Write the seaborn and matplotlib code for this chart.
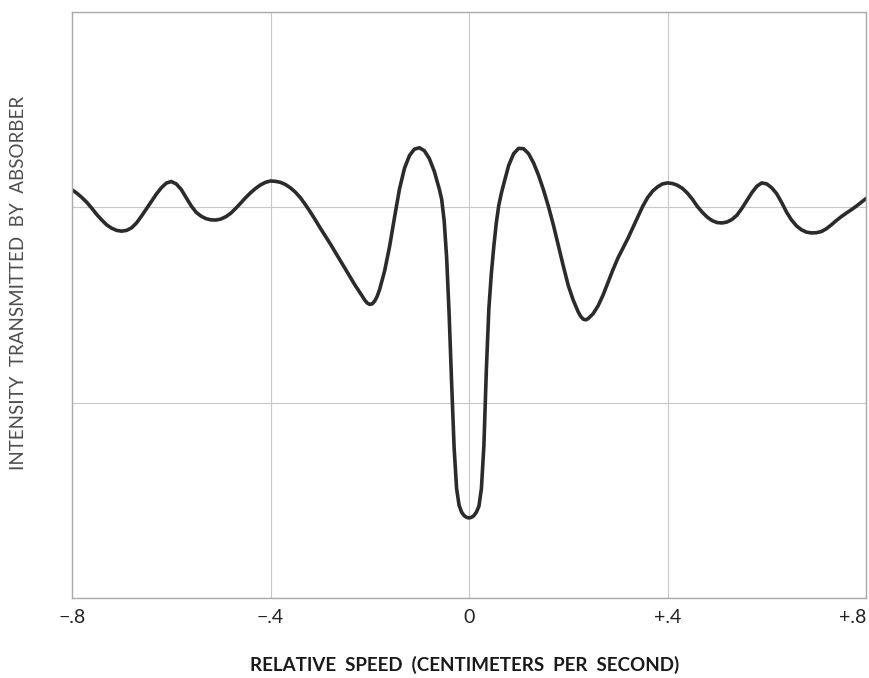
import matplotlib
matplotlib.use("Agg")
import matplotlib.pyplot as plt
import seaborn as sns
import pandas as pd

# Transmitted intensity versus relative source/absorber speed (cm/s)
speed = [
    -0.800, -0.790, -0.780, -0.770, -0.760, -0.750, -0.740, -0.730, -0.720,
    -0.710, -0.700, -0.690, -0.680, -0.670, -0.660, -0.650, -0.640, -0.630,
    -0.620, -0.610, -0.600, -0.590, -0.580, -0.570, -0.560, -0.550, -0.540,
    -0.530, -0.520, -0.510, -0.500, -0.490, -0.480, -0.470, -0.460, -0.450,
    -0.440, -0.430, -0.420, -0.410, -0.400, -0.390, -0.380, -0.370, -0.360,
    -0.350, -0.340, -0.330, -0.320, -0.310, -0.300, -0.280, -0.260, -0.240,
    -0.230, -0.220, -0.215, -0.210, -0.205, -0.200, -0.195, -0.190, -0.185,
    -0.180, -0.170, -0.160, -0.150, -0.140, -0.130, -0.120, -0.110, -0.100,
    -0.090, -0.080, -0.070, -0.060, -0.055, -0.050, -0.045, -0.040, -0.035,
    -0.030, -0.025, -0.020, -0.015, -0.010, -0.005, 0.000,
    0.005, 0.010, 0.015, 0.020, 0.025, 0.030, 0.035, 0.040, 0.045, 0.050,
    0.055, 0.060, 0.065, 0.070, 0.080, 0.090, 0.100, 0.110, 0.120, 0.130,
    0.140, 0.150, 0.160, 0.170, 0.180, 0.190, 0.200, 0.210, 0.220, 0.225,
    0.230, 0.235, 0.240, 0.250, 0.260, 0.270, 0.280, 0.290, 0.300, 0.310,
    0.320, 0.330, 0.340, 0.350, 0.360, 0.370, 0.380, 0.390, 0.400, 0.410,
    0.420, 0.430, 0.440, 0.450, 0.460, 0.470, 0.480, 0.490, 0.500, 0.510,
    0.520, 0.530, 0.540, 0.550, 0.560, 0.570, 0.580, 0.590, 0.600, 0.610,
    0.620, 0.630, 0.640, 0.650, 0.660, 0.670, 0.680, 0.690, 0.700, 0.710,
    0.720, 0.730, 0.740, 0.750, 0.760, 0.770, 0.780, 0.790, 0.800,
]
intensity = [
    2.090, 2.072, 2.050, 2.025, 1.995, 1.963, 1.935, 1.910, 1.893,
    1.882, 1.878, 1.882, 1.895, 1.920, 1.955, 1.992, 2.030, 2.068,
    2.100, 2.124, 2.132, 2.120, 2.092, 2.050, 2.008, 1.975, 1.955,
    1.942, 1.936, 1.935, 1.940, 1.952, 1.970, 1.995, 2.022, 2.050,
    2.075, 2.097, 2.115, 2.128, 2.135, 2.133, 2.128, 2.117, 2.100,
    2.078, 2.050, 2.015, 1.977, 1.937, 1.895, 1.815, 1.730, 1.645,
    1.603, 1.565, 1.545, 1.525, 1.510, 1.503, 1.506, 1.520, 1.545,
    1.580, 1.675, 1.800, 1.950, 2.095, 2.200, 2.265, 2.298, 2.305,
    2.290, 2.250, 2.185, 2.095, 2.040, 1.930, 1.740, 1.450, 1.100,
    0.770, 0.560, 0.475, 0.440, 0.422, 0.413, 0.410,
    0.413, 0.422, 0.440, 0.470, 0.560, 0.780, 1.170, 1.480, 1.660, 1.800,
    1.920, 2.010, 2.070, 2.120, 2.215, 2.275, 2.302, 2.300, 2.275, 2.228,
    2.165, 2.090, 2.005, 1.910, 1.805, 1.700, 1.600, 1.525, 1.465, 1.442,
    1.428, 1.424, 1.430, 1.455, 1.495, 1.550, 1.615, 1.680, 1.740, 1.790,
    1.840, 1.895, 1.950, 2.005, 2.050, 2.083, 2.105, 2.120, 2.125, 2.122,
    2.113, 2.097, 2.073, 2.042, 2.005, 1.975, 1.950, 1.932, 1.922, 1.920,
    1.925, 1.938, 1.960, 1.995, 2.035, 2.075, 2.108, 2.125, 2.120, 2.100,
    2.070, 2.025, 1.975, 1.935, 1.905, 1.885, 1.873, 1.869, 1.870, 1.876,
    1.890, 1.910, 1.932, 1.952, 1.970, 1.987, 2.005, 2.025, 2.045,
]

x_ticks = [-0.8, -0.4, 0.0, 0.4, 0.8]
x_tick_labels = ["\u2212.8", "\u2212.4", "0", "+.4", "+.8"]
y_ticks = [0, 1, 2, 3]

df = pd.DataFrame({"speed": speed, "intensity": intensity})

sns.set_theme(style="white")
plt.rcParams["font.family"] = ["Lato", "DejaVu Sans"]

fig = plt.figure(figsize=(8.69, 6.78), dpi=100)
ax = fig.add_axes([72 / 869, 1 - 598 / 678, (866 - 72) / 869, (598 - 12) / 678])

sns.lineplot(data=df, x="speed", y="intensity", ax=ax, estimator=None,
             color="#2b2b2b", linewidth=2.6, sort=False)
for ln in ax.get_lines():
    ln.set_solid_joinstyle("round")
    ln.set_solid_capstyle("round")

ax.set_xlim(-0.8, 0.8)
ax.set_ylim(0, 3)
ax.set_xticks(x_ticks)
ax.set_xticklabels(x_tick_labels, fontsize=14, color="#222222")
ax.get_xticklabels()[-1].set_horizontalalignment("right")
ax.set_yticks(y_ticks)
ax.set_yticklabels([])
ax.tick_params(axis="both", length=0, pad=8)
ax.grid(True, color="#c8c8c8", linewidth=0.8)
for side in ax.spines.values():
    side.set_color("#aaaaaa")
    side.set_linewidth(1.0)
ax.set_xlabel("")
ax.set_ylabel("")

fig.text(0.535, 1 - 665 / 678, "RELATIVE  SPEED  (CENTIMETERS  PER  SECOND)",
         ha="center", va="center", fontsize=13.5, fontweight="bold",
         color="#1a1a1a")
fig.text(19 / 869, 1 - 283 / 678, "INTENSITY  TRANSMITTED  BY  ABSORBER",
         ha="center", va="center", rotation=90, fontsize=13.5,
         fontweight="normal", color="#4d4d4d")

fig.savefig("out.png", dpi=100, facecolor="white")
